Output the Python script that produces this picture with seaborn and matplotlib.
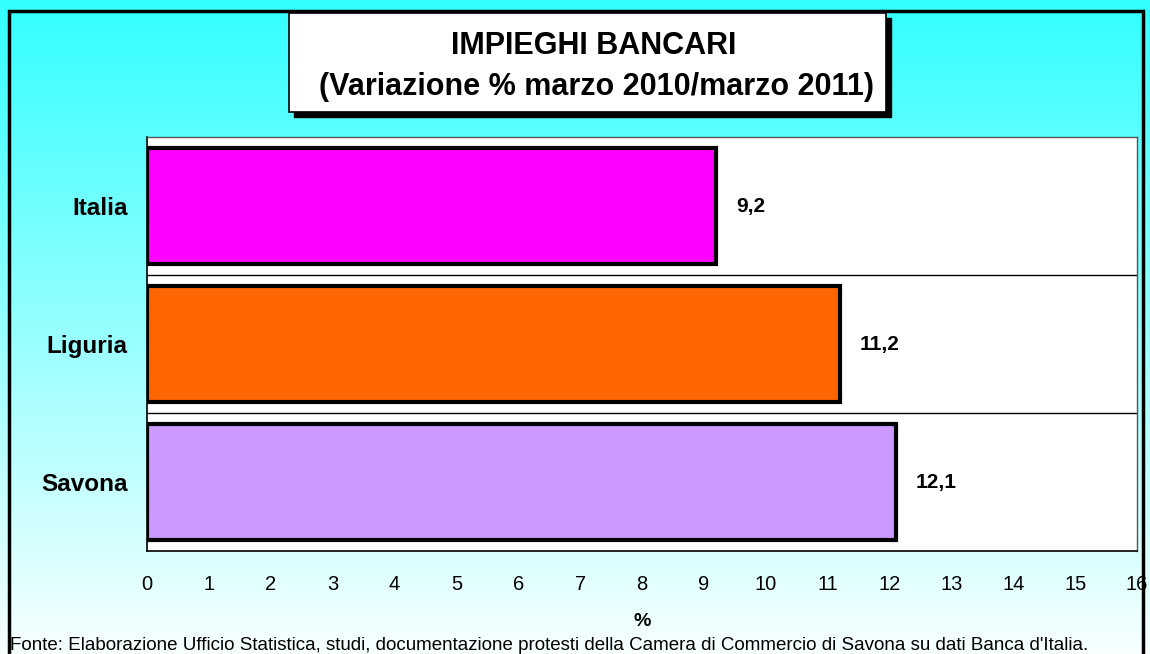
import numpy as np
import pandas as pd
import matplotlib
matplotlib.use("Agg")
import matplotlib.pyplot as plt
import seaborn as sns
from matplotlib.patches import Rectangle

categories = ["Italia", "Liguria", "Savona"]
values = [9.2, 11.2, 12.1]
value_labels = ["9,2", "11,2", "12,1"]
bar_colors = ["#FF00FF", "#FF6600", "#CC99FF"]
xtick_values = list(range(0, 17))
title_lines = ["IMPIEGHI BANCARI", "(Variazione % marzo 2010/marzo 2011)"]
x_label = "%"
footer = ("Fonte: Elaborazione Ufficio Statistica, studi, documentazione protesti "
          "della Camera di Commercio di Savona su dati Banca d'Italia.")

sns.set_style("white")
plt.rcParams["font.family"] = ["Liberation Sans", "DejaVu Sans"]
plt.rcParams["text.color"] = "black"
plt.rcParams["axes.labelcolor"] = "black"
plt.rcParams["xtick.color"] = "black"
plt.rcParams["ytick.color"] = "black"

W, H = 1150, 654
fig = plt.figure(figsize=(W / 100, H / 100), dpi=100)

# background gradient
bg = fig.add_axes([0, 0, 1, 1], zorder=0)
top = np.array([0x33, 0xFF, 0xFF]) / 255.0
bot = np.array([0xF8, 0xFF, 0xFF]) / 255.0
t = np.linspace(0, 1, 256)[:, None]
grad = top[None, :] * (1 - t) + bot[None, :] * t
bg.imshow(grad[:, None, :], aspect="auto", extent=[0, 1, 0, 1])
bg.set_axis_off()

ax = fig.add_axes([147 / W, 1 - 551 / H, (1137 - 147) / W, (551 - 137) / H], zorder=2)
ax.set_facecolor("white")
df = pd.DataFrame({"cat": categories, "value": values})
sns.barplot(data=df, x="value", y="cat", hue="cat", palette=bar_colors,
            orient="h", width=0.84, edgecolor="black", linewidth=3,
            saturation=1, legend=False, ax=ax, zorder=3)

ax.set_xlim(0, 16)
ax.set_ylim(2.5, -0.5)
for yb in [0.5, 1.5]:
    ax.axhline(yb, color="black", lw=1, zorder=1)

for i, (v, lab) in enumerate(zip(values, value_labels)):
    ax.text(v + 0.32, i, lab, va="center", ha="left", fontsize=15,
            fontweight="bold", color="black", zorder=4)

ax.set_yticks(range(len(categories)))
ax.set_yticklabels(categories, fontsize=17.5, fontweight="bold", color="black")
ax.tick_params(axis="y", which="major", length=0, pad=14)
ax.set_yticks([-0.5, 0.5, 1.5, 2.5], minor=True)
ax.tick_params(axis="y", which="minor", length=5, direction="out", color="black", width=1)

ax.set_xticks(xtick_values)
ax.set_xticklabels([str(x) for x in xtick_values], fontsize=14.5, color="black")
ax.tick_params(axis="x", which="major", length=5, direction="out", color="black", width=1, pad=12)
ax.set_xlabel(x_label, fontsize=14, fontweight="bold", labelpad=14, color="black")
ax.set_ylabel("")

for s in ["left", "bottom"]:
    ax.spines[s].set_color("black")
    ax.spines[s].set_linewidth(1.2)
for s in ["top", "right"]:
    ax.spines[s].set_color("#555555")
    ax.spines[s].set_linewidth(1)

# figure border
fig.patches.append(Rectangle((9 / W, -0.01), (1143 - 9) / W, (654 - 11) / H + 0.01,
                             transform=fig.transFigure, fill=False, lw=2.5,
                             edgecolor="black", zorder=5))

# title box with shadow
bx0, bx1, by0, by1 = 289, 886, 13, 112
fig.patches.append(Rectangle(((bx0 + 5) / W, 1 - (by1 + 5) / H), (bx1 - bx0) / W, (by1 - by0) / H,
                             transform=fig.transFigure, facecolor="black", edgecolor="black", zorder=5))
fig.patches.append(Rectangle((bx0 / W, 1 - by1 / H), (bx1 - bx0) / W, (by1 - by0) / H,
                             transform=fig.transFigure, facecolor="white", edgecolor="black",
                             lw=1.2, zorder=6))
fig.text(594 / W, 1 - 46 / H, title_lines[0], ha="center", va="center",
         fontsize=22, fontweight="bold", color="black", zorder=7)
fig.text(596 / W, 1 - 87 / H, title_lines[1], ha="center", va="center",
         fontsize=22, fontweight="bold", color="black", zorder=7)

fig.text(10 / W, 1 - 645 / H, footer, ha="left", va="center", fontsize=13.5,
         color="black", zorder=7)

fig.savefig("out.png", dpi=100)
